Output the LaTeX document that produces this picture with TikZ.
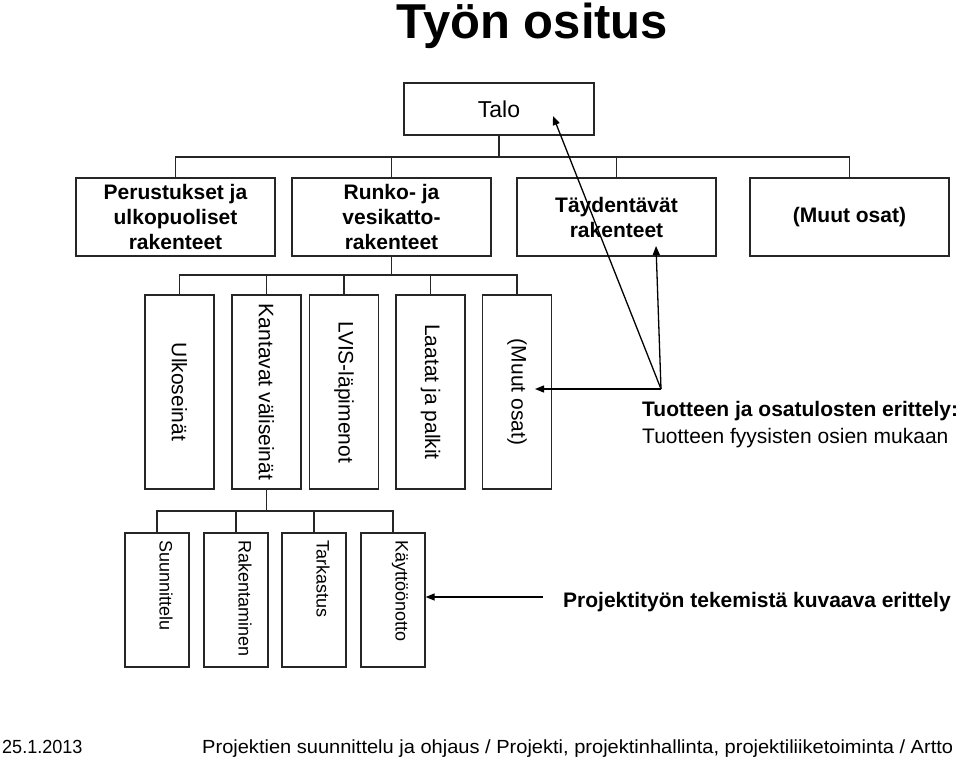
\documentclass[tikz,border=0pt]{standalone}
\usepackage{fontspec}
\setmainfont{Liberation Sans}
\usetikzlibrary{arrows.meta}
\begin{document}
\begin{tikzpicture}[x=1pt,y=-1pt,
  box/.style={draw=black!85, line width=1.3pt, inner sep=2pt, align=center},
  conn/.style={draw=black!85, line width=1.3pt},
  arr/.style={draw=black, line width=1.3pt, -{Triangle[length=9pt,width=7pt]}},
  t21/.style={font=\fontsize{21}{25}\selectfont},
  b21/.style={font=\bfseries\fontsize{21}{25}\selectfont},
  t18/.style={font=\fontsize{18}{22}\selectfont},
  lvl2/.style={box, t21, rotate=-90, minimum width=194pt, minimum height=69pt},
  lvl3/.style={box, rotate=-90, minimum width=134pt, minimum height=64pt},
  lvl3txt/.style={t18, rotate=-90, anchor=base west, inner sep=0pt},
  lvl1/.style={box, b21, minimum width=199pt, minimum height=78pt},
  foottxt/.style={font=\fontsize{19}{22}\selectfont, anchor=base west, inner sep=0pt},
]
\useasboundingbox (0,0) rectangle (960,764);

% title
\node[font=\bfseries\fontsize{49}{51}\selectfont, anchor=base, inner sep=0pt] (title) at (532.5,38.5) {Työn ositus};

% root
\node[box, minimum width=190pt, minimum height=52pt, font=\fontsize{23}{27}\selectfont] (talo) at (499,109) {Talo};

% level 1
\node[lvl1] (p1) at (175.5,217) {Perustukset ja\\ulkopuoliset\\rakenteet};
\node[lvl1] (p2) at (391.5,217) {Runko- ja\\vesikatto-\\rakenteet};
\node[lvl1] (p3) at (616.5,217) {Täydentävät\\rakenteet};
\node[lvl1] (p4) at (849.5,217) {(Muut osat)};

% level 2
\node[lvl2] (u1) at (179.5,392) {Ulkoseinät};
\node[lvl2] (u2) at (266.5,392) {Kantavat väliseinät};
\node[lvl2] (u3) at (344,392) {LVIS-läpimenot};
\node[lvl2] (u4) at (430.5,392) {Laatat ja palkit};
\node[lvl2] (u5) at (517,392) {(Muut osat)};

% level 3
\node[lvl3] (s1) at (157,600) {};
\node[lvl3] (s2) at (236,600) {};
\node[lvl3] (s3) at (314,600) {};
\node[lvl3] (s4) at (393,600) {};
\node[lvl3txt] (s1t) at (159.5,540) {Suunnittelu};
\node[lvl3txt] (s2t) at (238.5,540) {Rakentaminen};
\node[lvl3txt] (s3t) at (316.5,540) {Tarkastus};
\node[lvl3txt] (s4t) at (395.5,540) {Käyttöönotto};

% tree connectors
\coordinate (b1) at (499,157);
\draw[conn] (talo.south) -- (b1);
\draw[conn] (p1.north) |- (b1) -| (p4.north);
\draw[conn] (p2.north) -- (p2.north |- b1);
\draw[conn] (p3.north) -- (p3.north |- b1);

\coordinate (b2) at (391.5,275);
\draw[conn] (p2.south) -- (b2);
\draw[conn] (u1.west) |- (b2) -| (u5.west);
\draw[conn] (u2.west) -- (u2.west |- b2);
\draw[conn] (u3.west) -- (u3.west |- b2);
\draw[conn] (u4.west) -- (u4.west |- b2);

\coordinate (b3) at (266.5,511);
\draw[conn] (u2.east) -- (b3);
\draw[conn] (s1.west) |- (b3) -| (s4.west);
\draw[conn] (s2.west) -- (s2.west |- b3);
\draw[conn] (s3.west) -- (s3.west |- b3);

% annotation arrows
\coordinate (P) at (661,389);
\coordinate (tipTalo) at (553,116);
\coordinate (tipTayd) at (656,246);
\coordinate (tipMuut) at (535,389);
\draw[arr] (P) -- (tipTalo);
\draw[arr] (P) -- (tipTayd);
\draw[arr] (P) -- (tipMuut);

\node[b21, anchor=base west, inner sep=0pt] (tu1) at (642,416) {Tuotteen ja osatulosten erittely:};
\node[t21, anchor=base west, inner sep=0pt] (tu2) at (642,443) {Tuotteen fyysisten osien mukaan};

\node[b21, anchor=base west, inner sep=0pt] (pt) at (563,607) {Projektityön tekemistä kuvaava erittely};
\coordinate (pstart) at (543,597);
\draw[arr] (pstart) -- (s4.north |- pstart);

% footer
\node[foottxt, xscale=0.95] (date) at (2,753) {25.1.2013};
\node[foottxt, xscale=1.055] (foot) at (202,753) {Projektien suunnittelu ja ohjaus / Projekti, projektinhallinta, projektiliiketoiminta / Artto};
\end{tikzpicture}
\end{document}
